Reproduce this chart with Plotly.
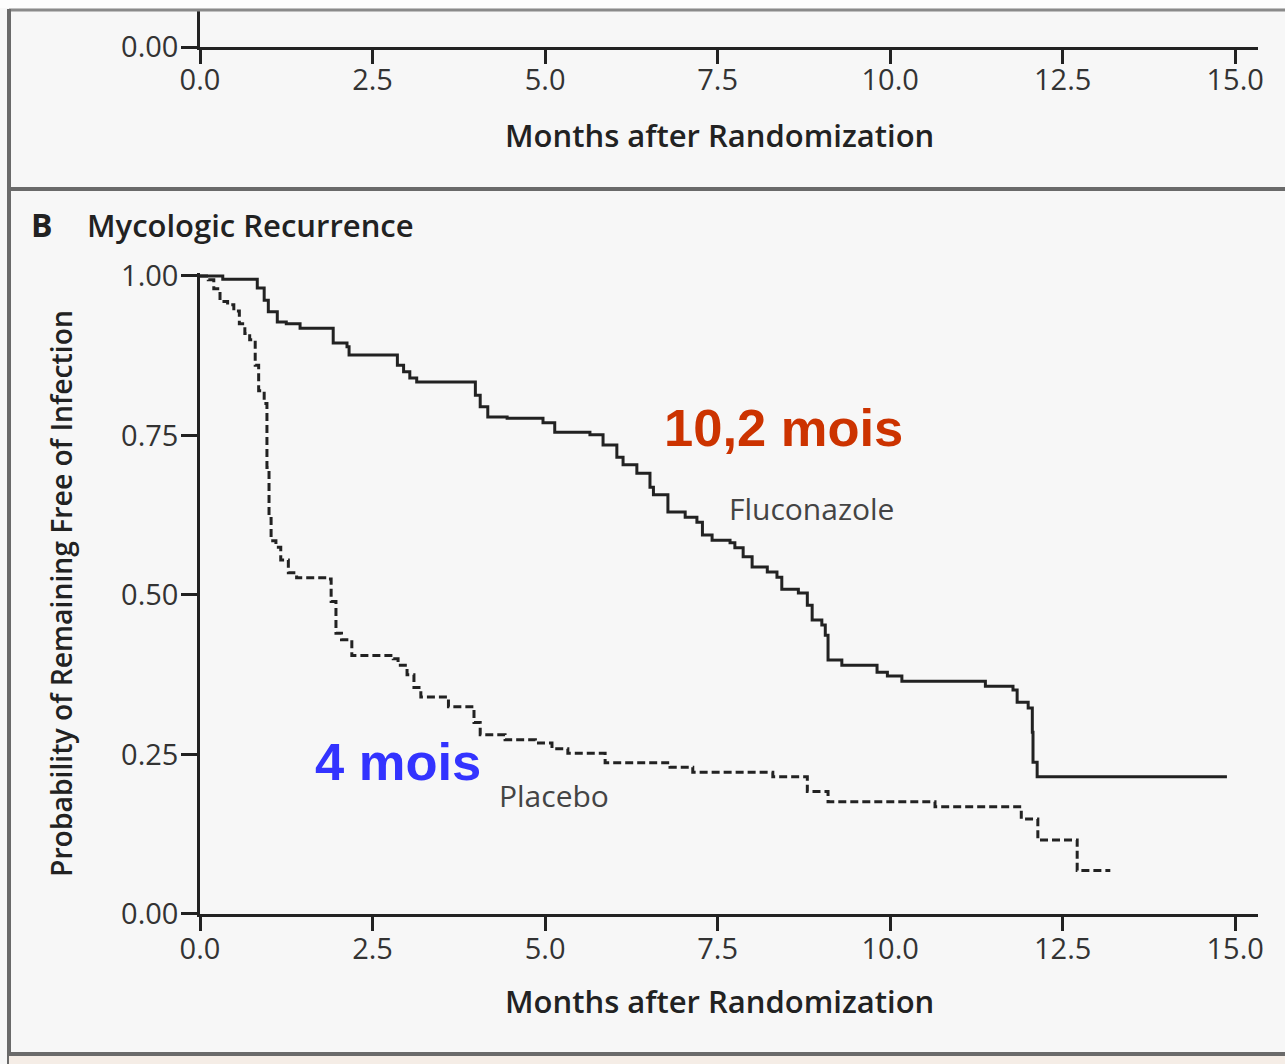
import plotly.graph_objects as go

W, H = 1285, 1064

# ---------------- data ----------------
fluco_t = [0.0, 0.33, 0.83, 0.93, 0.99, 1.12, 1.25, 1.45, 1.93, 2.13, 2.16, 2.86, 2.95, 3.04, 3.14,
           3.99, 4.06, 4.17, 4.45, 4.97, 5.14, 5.65, 5.84, 6.04, 6.13, 6.33, 6.52, 6.57, 6.78,
           7.03, 7.20, 7.28, 7.42, 7.68, 7.75, 7.87, 8.00, 8.22, 8.36, 8.43, 8.67, 8.80, 8.87,
           9.01, 9.06, 9.10, 9.30, 9.81, 9.96, 10.17, 11.38, 11.78, 11.84, 12.00, 12.06, 12.07,
           12.13, 14.88]
fluco_s = [1.000, 0.995, 0.981, 0.962, 0.944, 0.928, 0.925, 0.918, 0.895, 0.889, 0.876, 0.860, 0.850, 0.840, 0.834,
           0.813, 0.795, 0.779, 0.777, 0.770, 0.755, 0.751, 0.735, 0.716, 0.704, 0.691, 0.669, 0.657, 0.630,
           0.622, 0.614, 0.594, 0.586, 0.582, 0.574, 0.560, 0.544, 0.536, 0.528, 0.509, 0.503, 0.484, 0.461,
           0.453, 0.437, 0.398, 0.390, 0.379, 0.373, 0.365, 0.357, 0.351, 0.332, 0.323, 0.285, 0.238,
           0.215, 0.215]

placebo_t = [0.0, 0.12, 0.20, 0.29, 0.40, 0.49, 0.57, 0.65, 0.72, 0.80, 0.85, 0.93, 0.97, 1.00, 1.03,
             1.10, 1.17, 1.28, 1.40, 1.86, 1.90, 1.97, 2.05, 2.20, 2.80, 2.87, 3.00, 3.10, 3.20,
             3.60, 3.97, 4.06, 4.42, 4.86, 5.10, 5.33, 5.87, 6.81, 7.14, 8.30, 8.80, 9.10, 10.65,
             11.90, 12.14, 12.71, 13.19]
placebo_s = [1.000, 0.994, 0.980, 0.960, 0.955, 0.945, 0.925, 0.910, 0.900, 0.860, 0.820, 0.800, 0.700, 0.620, 0.585,
             0.575, 0.555, 0.535, 0.527, 0.525, 0.490, 0.440, 0.430, 0.405, 0.400, 0.390, 0.375, 0.355, 0.340,
             0.325, 0.300, 0.281, 0.273, 0.268, 0.259, 0.252, 0.237, 0.230, 0.222, 0.215, 0.192, 0.176, 0.168,
             0.149, 0.116, 0.068, 0.068]

x_ticks = [0.0, 2.5, 5.0, 7.5, 10.0, 12.5, 15.0]
x_tick_labels = ["0.0", "2.5", "5.0", "7.5", "10.0", "12.5", "15.0"]
y_ticks = [0.0, 0.25, 0.50, 0.75, 1.00]
y_tick_labels = ["0.00", "0.25", "0.50", "0.75", "1.00"]

# ---------------- helpers ----------------
def px(x):
    return x / W

def py(y):
    return 1 - y / H

FONT = "Open Sans"
INK = "#222222"
BG = "#f7f7f7"

fig = go.Figure()

fig.add_trace(go.Scatter(x=fluco_t, y=fluco_s, mode="lines", line_shape="hv",
                         line=dict(color=INK, width=3), xaxis="x", yaxis="y",
                         name="Fluconazole", showlegend=False, hoverinfo="skip"))
fig.add_trace(go.Scatter(x=placebo_t, y=placebo_s, mode="lines", line_shape="hv",
                         line=dict(color=INK, width=3, dash="8px,4px"), xaxis="x", yaxis="y",
                         name="Placebo", showlegend=False, hoverinfo="skip"))
# invisible trace to make the top axes render
fig.add_trace(go.Scatter(x=[0], y=[0], mode="markers", marker=dict(opacity=0),
                         xaxis="x2", yaxis="y2", showlegend=False, hoverinfo="skip"))

xr = [0, 15.33]
axis_common = dict(showline=True, linecolor=INK, linewidth=2.5, ticks="outside",
                   tickcolor=INK, tickwidth=2.5, showgrid=False, zeroline=False,
                   automargin=False,
                   tickfont=dict(family=FONT, size=29, color="#333333"))

fig.update_layout(
    template="none",
    width=W, height=H,
    margin=dict(l=0, r=0, t=0, b=0, pad=0, autoexpand=False),
    paper_bgcolor=BG, plot_bgcolor=BG,
    xaxis=dict(domain=[px(200), px(1258)], range=xr, tickvals=x_ticks, ticktext=x_tick_labels,
               ticklen=14, ticklabelstandoff=-7, anchor="y", **axis_common),
    yaxis=dict(domain=[py(914), py(914 - 1.004 * 638)], range=[0, 1.004], tickvals=y_ticks,
               ticktext=y_tick_labels, ticklen=16, ticklabelstandoff=-3, anchor="x", **axis_common),
    xaxis2=dict(domain=[px(200), px(1258)], range=xr, tickvals=x_ticks, ticktext=x_tick_labels,
                ticklen=14, ticklabelstandoff=-9, anchor="y2", **axis_common),
    yaxis2=dict(domain=[py(47), py(11)], range=[0, 1], tickvals=[0], ticktext=["0.00"],
                ticklen=16, ticklabelstandoff=-3, anchor="x2", **axis_common),
)

shapes = [
    dict(type="rect", xref="paper", yref="paper", x0=0, x1=1, y0=py(8), y1=1,
         fillcolor="#fdfdfd", line=dict(width=0), layer="below"),
    dict(type="line", xref="paper", yref="paper", x0=px(9), x1=1, y0=py(10), y1=py(10),
         line=dict(color="#8a8a8a", width=3)),
    dict(type="line", xref="paper", yref="paper", x0=px(9), x1=px(9), y0=py(9), y1=0,
         line=dict(color="#6a6a6a", width=4)),
    dict(type="line", xref="paper", yref="paper", x0=px(9), x1=1, y0=py(189), y1=py(189),
         line=dict(color="#6a6a6a", width=4)),
    dict(type="rect", xref="paper", yref="paper", x0=px(9), x1=1, y0=0, y1=py(1056),
         fillcolor="#f5ede6", line=dict(width=0)),
    dict(type="line", xref="paper", yref="paper", x0=px(9), x1=1, y0=py(1054), y1=py(1054),
         line=dict(color="#6a6a6a", width=4)),
]
fig.update_layout(shapes=shapes)

ann = []
def text(x, y, s, size, color="#222222", family=FONT, weight=400, xanchor="center", angle=0):
    ann.append(dict(xref="paper", yref="paper", x=px(x), y=py(y), text=s, showarrow=False,
                    xanchor=xanchor, yanchor="middle", textangle=angle,
                    font=dict(family=family, size=size, color=color, weight=weight)))

text(719, 135, "Months after Randomization", 31, weight=600)
text(719, 1001, "Months after Randomization", 31, weight=600)
text(29, 224, "B", 32, weight=700, xanchor="left")
text(85, 225, "Mycologic Recurrence", 31, weight=600, xanchor="left")
text(61, 594, "Probability of Remaining Free of Infection", 28.3, weight=600, angle=-90)
text(727, 509, "Fluconazole", 30, color="#444444", xanchor="left")
text(497, 795, "Placebo", 30, color="#444444", xanchor="left")
text(662, 428, "10,2 mois", 52.5, color="#cc3300", family="Liberation Sans", weight=700, xanchor="left")
text(313, 761, "4 mois", 52.5, color="#3333ff", family="Liberation Sans", weight=700, xanchor="left")
fig.update_layout(annotations=ann)

fig.write_html("out.html", config={"displayModeBar": False},
               post_script="document.body.style.margin='0';")
